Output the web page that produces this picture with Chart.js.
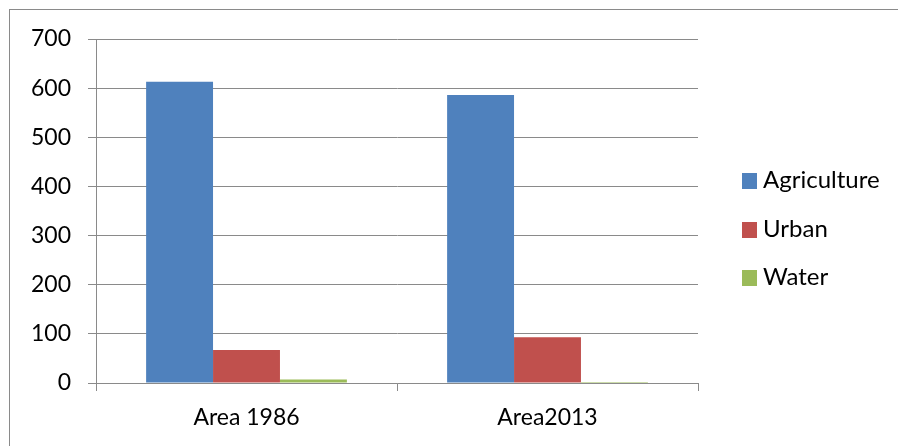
<!DOCTYPE html>
<html>
<head>
<meta charset="utf-8">
<script src="https://cdn.jsdelivr.net/npm/chart.js@4/dist/chart.umd.min.js"></script>
<style>
  html, body { margin: 0; padding: 0; background: #fff; }
  #wrap { position: relative; width: 898px; height: 446px; overflow: hidden; }
  #frame { position: absolute; left: 9px; top: 9px; width: 960px; height: 500px; border: 1px solid #8a8a8a; box-sizing: border-box; }
  canvas { position: absolute; left: 0; top: 0; }
  #legend { position: absolute; left: 742px; top: 0; font-family: Lato, "Open Sans", sans-serif; font-size: 24px; color: #000; }
  .item { position: absolute; left: 0; white-space: nowrap; height: 24px; line-height: 24px; }
  .sw { position: absolute; left: 0; top: 4px; width: 15px; height: 16px; }
  .lbl { position: absolute; left: 21px; top: -2px; }
</style>
</head>
<body>
<div id="wrap">
  <div id="frame"></div>
  <canvas id="c" width="898" height="446"></canvas>
  <div id="legend"></div>
</div>
<script>
const categories = ['Area 1986', 'Area2013'];
const seriesNames = ['Agriculture', 'Urban', 'Water'];
const agriculture = [613, 586];
const urban = [67, 93];
const water = [7, 2];
const yTicks = [0, 100, 200, 300, 400, 500, 600, 700];
const colors = ['#4F81BD', '#C0504D', '#9BBB59'];

const FONT = { family: 'Lato, "Open Sans", sans-serif', size: 23 };
const GRID = '#8a8a8a';

const chart = new Chart(document.getElementById('c'), {
  type: 'bar',
  data: {
    labels: categories,
    datasets: [agriculture, urban, water].map((d, i) => ({
      label: seriesNames[i],
      data: d,
      backgroundColor: colors[i],
      borderWidth: 0,
      barPercentage: 1.0,
      categoryPercentage: 0.667
    }))
  },
  options: {
    responsive: false,
    animation: false,
    devicePixelRatio: 1,
    layout: { padding: { top: 39, right: 200, left: 0, bottom: 0 } },
    plugins: { legend: { display: false }, tooltip: { enabled: false } },
    scales: {
      x: {
        offset: true,
        grid: { display: true, offset: true, drawOnChartArea: false, drawTicks: true, tickLength: 8, color: GRID, lineWidth: 1 },
        border: { display: true, color: GRID, width: 1 },
        ticks: { color: '#000', font: FONT, padding: 13, maxRotation: 0 },
        afterFit: s => { s.height = 63; }
      },
      y: {
        min: 0, max: 700,
        afterBuildTicks: s => { s.ticks = yTicks.map(v => ({ value: v })); },
        grid: { color: GRID, lineWidth: 1, drawTicks: true, tickLength: 8 },
        border: { display: true, color: GRID, width: 1 },
        ticks: { color: '#000', font: FONT, padding: 17 },
        afterFit: s => { s.width = 96; }
      }
    }
  }
});

// HTML legend built from the chart's datasets
const legendEl = document.getElementById('legend');
const rowCenters = [181, 230, 278];
chart.data.datasets.forEach((ds, i) => {
  const item = document.createElement('div');
  item.className = 'item';
  item.style.top = (rowCenters[i] - 12) + 'px';
  const sw = document.createElement('span');
  sw.className = 'sw';
  sw.style.background = ds.backgroundColor;
  const lbl = document.createElement('span');
  lbl.className = 'lbl';
  lbl.textContent = ds.label;
  item.appendChild(sw);
  item.appendChild(lbl);
  legendEl.appendChild(item);
});
</script>
</body>
</html>
